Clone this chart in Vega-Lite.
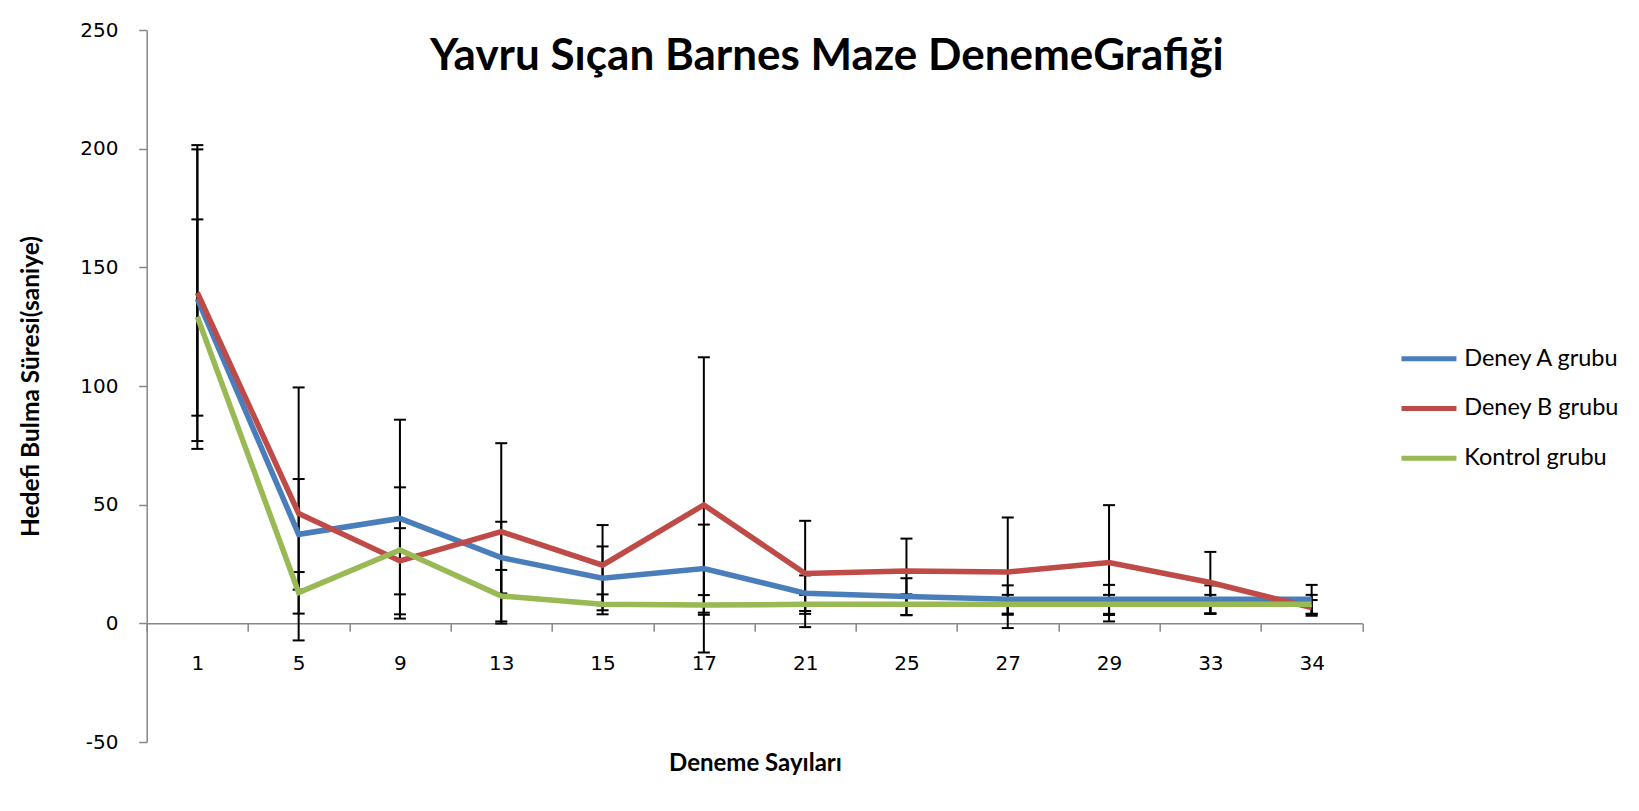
{
  "$schema": "https://vega.github.io/schema/vega-lite/v6.json",
  "autosize": {"type": "none"},
  "padding": {"left": 146.7, "top": 30, "right": 276.7, "bottom": 69},
  "width": 1215.6,
  "height": 712,
  "background": "white",
  "title": {
    "text": "Yavru Sıçan Barnes Maze DenemeGrafiği",
    "font": "Lato",
    "fontSize": 44,
    "fontWeight": "bold",
    "color": "black",
    "anchor": "middle",
    "frame": "group",
    "dx": 72.4,
    "baseline": "middle",
    "offset": -81
  },
  "data": {
    "values": [
      {"trial": "1", "group": "Deney A grubu", "mean": 136.7, "low": 73.5, "high": 199.7},
      {"trial": "5", "group": "Deney A grubu", "mean": 37.5, "low": 14.2, "high": 60.8},
      {"trial": "9", "group": "Deney A grubu", "mean": 44.2, "low": 2.0, "high": 85.8},
      {"trial": "13", "group": "Deney A grubu", "mean": 27.7, "low": 12.6, "high": 42.8},
      {"trial": "15", "group": "Deney A grubu", "mean": 19.0, "low": 5.5, "high": 32.4},
      {"trial": "17", "group": "Deney A grubu", "mean": 23.1, "low": 4.5, "high": 41.6},
      {"trial": "21", "group": "Deney A grubu", "mean": 12.7, "low": 5.2, "high": 20.2},
      {"trial": "25", "group": "Deney A grubu", "mean": 11.3, "low": 3.5, "high": 19.0},
      {"trial": "27", "group": "Deney A grubu", "mean": 10.1, "low": 4.1, "high": 16.0},
      {"trial": "29", "group": "Deney A grubu", "mean": 10.1, "low": 4.0, "high": 16.2},
      {"trial": "33", "group": "Deney A grubu", "mean": 10.1, "low": 4.1, "high": 16.0},
      {"trial": "34", "group": "Deney A grubu", "mean": 10.1, "low": 4.0, "high": 16.2},
      {"trial": "1", "group": "Deney B grubu", "mean": 139.3, "low": 76.8, "high": 201.5},
      {"trial": "5", "group": "Deney B grubu", "mean": 46.3, "low": -7.2, "high": 99.4},
      {"trial": "9", "group": "Deney B grubu", "mean": 26.3, "low": 12.2, "high": 40.1},
      {"trial": "13", "group": "Deney B grubu", "mean": 38.6, "low": 0.8, "high": 75.9},
      {"trial": "15", "group": "Deney B grubu", "mean": 24.5, "low": 7.6, "high": 41.4},
      {"trial": "17", "group": "Deney B grubu", "mean": 49.9, "low": -12.3, "high": 112.1},
      {"trial": "21", "group": "Deney B grubu", "mean": 21.0, "low": -1.6, "high": 43.2},
      {"trial": "25", "group": "Deney B grubu", "mean": 22.1, "low": 8.5, "high": 35.7},
      {"trial": "27", "group": "Deney B grubu", "mean": 21.6, "low": -2.0, "high": 44.6},
      {"trial": "29", "group": "Deney B grubu", "mean": 25.6, "low": 0.8, "high": 49.8},
      {"trial": "33", "group": "Deney B grubu", "mean": 17.2, "low": 4.2, "high": 30.1},
      {"trial": "34", "group": "Deney B grubu", "mean": 6.6, "low": 3.2, "high": 9.8},
      {"trial": "1", "group": "Kontrol grubu", "mean": 129.2, "low": 87.5, "high": 170.2},
      {"trial": "5", "group": "Kontrol grubu", "mean": 13.0, "low": 4.1, "high": 21.6},
      {"trial": "9", "group": "Kontrol grubu", "mean": 30.9, "low": 3.8, "high": 57.3},
      {"trial": "13", "group": "Kontrol grubu", "mean": 11.5, "low": -0.1, "high": 22.5},
      {"trial": "15", "group": "Kontrol grubu", "mean": 8.0, "low": 3.8, "high": 12.2},
      {"trial": "17", "group": "Kontrol grubu", "mean": 7.7, "low": 3.6, "high": 11.9},
      {"trial": "21", "group": "Kontrol grubu", "mean": 8.0, "low": 4.0, "high": 12.0},
      {"trial": "25", "group": "Kontrol grubu", "mean": 8.0, "low": 3.4, "high": 12.2},
      {"trial": "27", "group": "Kontrol grubu", "mean": 8.0, "low": 3.6, "high": 12.0},
      {"trial": "29", "group": "Kontrol grubu", "mean": 8.0, "low": 3.5, "high": 12.0},
      {"trial": "33", "group": "Kontrol grubu", "mean": 8.0, "low": 4.0, "high": 12.0},
      {"trial": "34", "group": "Kontrol grubu", "mean": 8.0, "low": 4.0, "high": 12.0}
    ]
  },
  "encoding": {
    "x": {
      "field": "trial",
      "type": "ordinal",
      "sort": ["1", "5", "9", "13", "15", "17", "21", "25", "27", "29", "33", "34"],
      "scale": {"paddingInner": 0, "paddingOuter": 0},
      "title": "Deneme Sayıları",
      "axis": {
        "labelAngle": 0,
        "offset": -118.7,
        "tickBand": "extent",
        "tickSize": 8,
        "tickColor": "#878787",
        "tickWidth": 1.5,
        "domainColor": "#878787",
        "domainWidth": 1.5,
        "labelFont": "DejaVu Sans",
        "labelFontSize": 20,
        "labelColor": "black",
        "labelPadding": 22,
        "titleFont": "Lato",
        "titleFontSize": 24,
        "titleFontWeight": "bold",
        "titleColor": "black",
        "titleX": 608.3,
        "titleY": 140.5,
        "titleBaseline": "middle"
      }
    }
  },
  "layer": [
    {
      "mark": {"type": "rule", "color": "black", "strokeWidth": 2},
      "encoding": {
        "y": {"field": "low", "type": "quantitative", "scale": {"domain": [-50, 250], "nice": false}, "title": "Hedefi Bulma Süresi(saniye)", "axis": {"values": [-50, 0, 50, 100, 150, 200, 250], "labelExpr": "datum.value + ''"}},
        "y2": {"field": "high"}
      }
    },
    {
      "mark": {"type": "tick", "color": "black", "size": 12, "thickness": 2, "opacity": 1},
      "encoding": {
        "y": {"field": "low", "type": "quantitative", "scale": {"domain": [-50, 250], "nice": false}, "title": "Hedefi Bulma Süresi(saniye)", "axis": {"values": [-50, 0, 50, 100, 150, 200, 250], "labelExpr": "datum.value + ''"}}
      }
    },
    {
      "mark": {"type": "tick", "color": "black", "size": 12, "thickness": 2, "opacity": 1},
      "encoding": {
        "y": {"field": "high", "type": "quantitative", "scale": {"domain": [-50, 250], "nice": false}, "title": "Hedefi Bulma Süresi(saniye)", "axis": {"values": [-50, 0, 50, 100, 150, 200, 250], "labelExpr": "datum.value + ''"}}
      }
    },
    {
      "mark": {"type": "line", "strokeWidth": 5.5},
      "encoding": {
        "y": {"field": "mean", "type": "quantitative", "scale": {"domain": [-50, 250], "nice": false}, "title": "Hedefi Bulma Süresi(saniye)", "axis": {"values": [-50, 0, 50, 100, 150, 200, 250], "labelExpr": "datum.value + ''"}},
        "color": {
          "field": "group",
          "type": "nominal",
          "scale": {"domain": ["Deney A grubu", "Deney B grubu", "Kontrol grubu"], "range": ["#4A7EBB", "#BE4B48", "#98B954"]},
          "legend": {
            "title": null,
            "orient": "none",
            "legendX": 1270.5,
            "legendY": 317,
            "symbolType": "M-5,0H5",
            "symbolSize": 121,
            "symbolStrokeWidth": 5,
            "labelFont": "Lato",
            "labelFontSize": 23.5,
            "labelColor": "black",
            "labelOffset": 23.5,
            "rowPadding": 24.7
          }
        }
      }
    }
  ],
  "config": {
    "view": {"stroke": null},
    "axisY": {
      "grid": false,
      "tickSize": 8,
      "tickColor": "#878787",
      "tickWidth": 1.5,
      "domainColor": "#878787",
      "domainWidth": 1.5,
      "labelFont": "DejaVu Sans",
      "labelFontSize": 20,
      "labelColor": "black",
      "labelPadding": 20.7,
      "titleFont": "Lato",
      "titleFontSize": 24.5,
      "titleFontWeight": "bold",
      "titleColor": "black",
      "titleX": -115.7,
      "titleY": 356,
      "titleBaseline": "middle"
    },
    "axisX": {"grid": false}
  }
}
